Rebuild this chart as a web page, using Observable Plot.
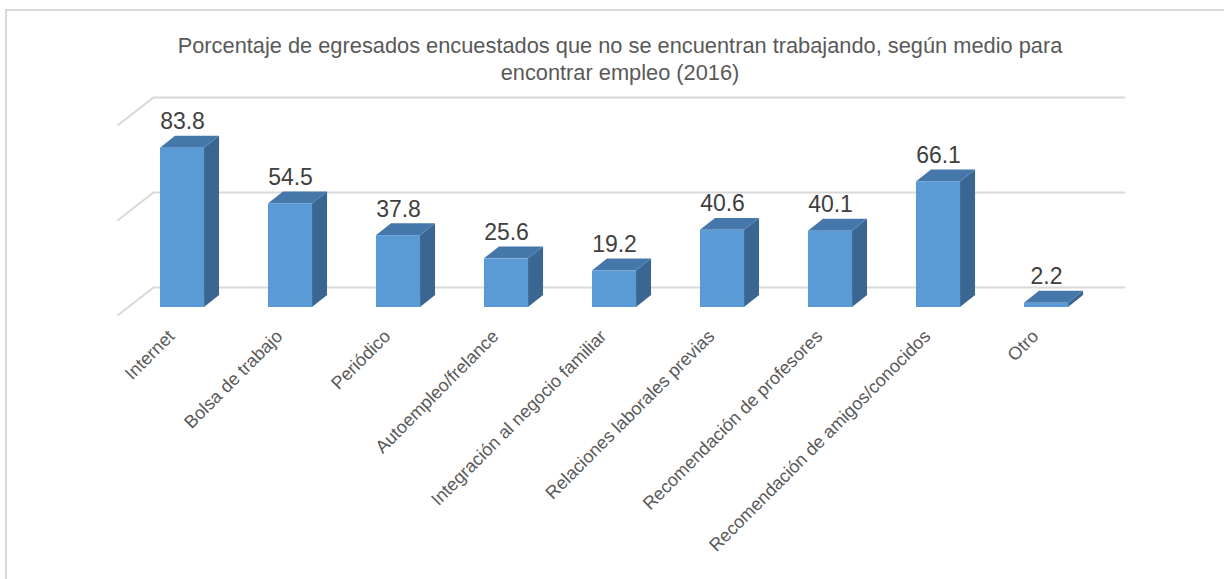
<!DOCTYPE html>
<html>
<head>
<meta charset="utf-8">
<script src="https://cdn.jsdelivr.net/npm/d3@7"></script>
<script src="https://cdn.jsdelivr.net/npm/@observablehq/plot@0.6"></script>
<style>
  html, body { margin: 0; padding: 0; background: #fff; }
  #wrap { position: relative; width: 1224px; height: 579px; overflow: hidden; background: #fff; }
  #frame { position: absolute; left: 5px; top: 9px; width: 1260px; height: 620px; border: 2px solid #d9d9d9; box-sizing: border-box; }
  #title { position: absolute; left: 5px; width: 1230px; top: 32px; text-align: center;
           font-family: "Liberation Sans", Arial, sans-serif; font-size: 21.8px; line-height: 27px; color: #595959; }
  #chart { position: absolute; left: 0; top: 90px; }
</style>
</head>
<body>
<div id="wrap">
  <div id="frame"></div>
  <div id="title">Porcentaje de egresados encuestados que no se encuentran trabajando, según medio para<br>encontrar empleo (2016)</div>
  <div id="chart"></div>
</div>
<script>
// ---- data ----
const categories = [
  "Internet",
  "Bolsa de trabajo",
  "Periódico",
  "Autoempleo/frelance",
  "Integración al negocio familiar",
  "Relaciones laborales previas",
  "Recomendación de profesores",
  "Recomendación de amigos/conocidos",
  "Otro"
];
const values = [83.8, 54.5, 37.8, 25.6, 19.2, 40.6, 40.1, 66.1, 2.2];
const gridTicks = [0, 50, 100];

// ---- 3D geometry (in scale units) ----
const HALF = 0.204;          // half bar width (x units)
const DEPTH_X = 0.139;       // bar depth, x units
const DEPTH_Y = 6.3;         // bar depth, y units
const FRONT_X = -0.102, FRONT_Y = -4.2;  // floor front plane offset
const BACK_X = 0.2315, BACK_Y = 10.5;    // back wall offset

const table = categories.map((c, i) => ({i, cat: c, v: values[i]}));

const sidePts = table.flatMap(d => [
  {bar: d.i, x: d.i + HALF, y1: 0, y2: d.v},
  {bar: d.i, x: d.i + HALF + DEPTH_X, y1: DEPTH_Y, y2: d.v + DEPTH_Y}
]);
const topPts = table.flatMap(d => [
  {bar: d.i, y: d.v, x1: d.i - HALF, x2: d.i + HALF},
  {bar: d.i, y: d.v + DEPTH_Y, x1: d.i - HALF + DEPTH_X, x2: d.i + HALF + DEPTH_X}
]);

const grid = "#d9d9d9";

const chart = Plot.plot({
  width: 1224,
  height: 489,
  marginTop: 27,
  marginBottom: 272,
  marginLeft: 128,
  marginRight: 124,
  style: {fontFamily: "'Liberation Sans', Arial, sans-serif", background: "transparent"},
  x: {domain: [-0.5, 8.5], axis: null},
  y: {domain: [0, 100], axis: null},
  marks: [
    Plot.ruleY(gridTicks, {stroke: grid, strokeWidth: 2, dx: 25, dy: -20}),
    Plot.link(gridTicks, {
      x1: () => -0.5 + FRONT_X, y1: t => t + FRONT_Y,
      x2: () => -0.5 + BACK_X, y2: t => t + BACK_Y,
      stroke: grid, strokeWidth: 2
    }),
    Plot.areaY(sidePts, {x: "x", y1: "y1", y2: "y2", z: "bar", fill: "#3a6791"}),
    Plot.areaX(topPts, {y: "y", x1: "x1", x2: "x2", z: "bar", fill: "#4577ab"}),
    Plot.rect(table, {x1: d => d.i - HALF, x2: d => d.i + HALF, y1: 0, y2: "v", fill: "#5b9bd5"}),
    Plot.text(table, {x: "i", y: "v", text: d => d.v.toFixed(1), dy: -19, lineAnchor: "bottom",
      fontSize: 23, fill: "#404040"}),
    Plot.text(table, {x: "i", text: "cat", frameAnchor: "bottom", dx: -7, dy: 30, rotate: -45,
      textAnchor: "end", lineAnchor: "bottom", fontSize: 18, fill: "#595959"})
  ]
});
document.getElementById("chart").appendChild(chart);
</script>
</body>
</html>
